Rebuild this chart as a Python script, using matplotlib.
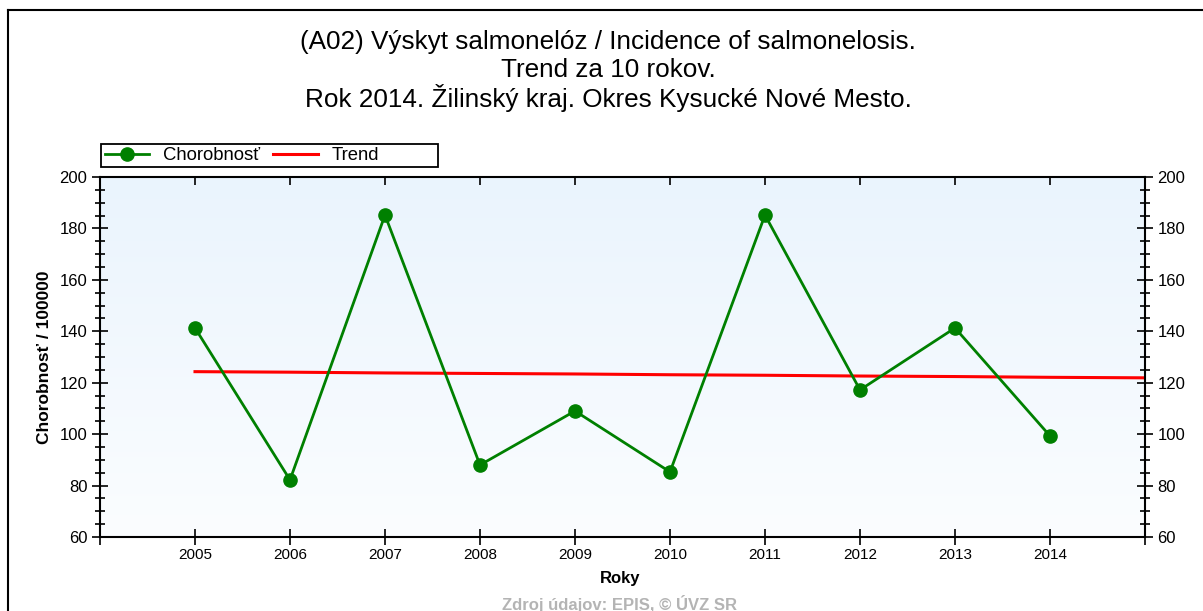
import matplotlib
matplotlib.use("Agg")
import matplotlib.pyplot as plt
import numpy as np
from matplotlib.ticker import FixedLocator, MultipleLocator, FixedFormatter
from matplotlib.lines import Line2D
from matplotlib.patches import Rectangle
from matplotlib.colors import LinearSegmentedColormap

plt.rcParams['font.family'] = ['Liberation Sans', 'DejaVu Sans']

years = [2005, 2006, 2007, 2008, 2009, 2010, 2011, 2012, 2013, 2014]
incidence = [141.3, 82.2, 185.2, 88.0, 109.0, 85.3, 185.2, 117.2, 141.3, 99.3]
trend_years = [2005, 2006, 2007, 2008, 2009, 2010, 2011, 2012, 2013, 2014, 2015]
trend_values = [124.3, 124.1, 123.8, 123.6, 123.4, 123.1, 122.9, 122.6, 122.4, 122.1, 121.9]
title_lines = ["(A02) Výskyt salmonelóz / Incidence of salmonelosis.",
               "Trend za 10 rokov.",
               "Rok 2014. Žilinský kraj. Okres Kysucké Nové Mesto."]

W, H = 1203, 611
fig = plt.figure(figsize=(W / 100, H / 100), dpi=100)

def fx(px):
    return px / W

def fy(py):
    return 1 - py / H

# outer frame
fig.add_artist(Line2D([fx(8), fx(8)], [fy(10), -0.1], color='black', lw=1.5, transform=fig.transFigure))
fig.add_artist(Line2D([fx(8), 1.1], [fy(10), fy(10)], color='black', lw=1.5, transform=fig.transFigure))

ax = fig.add_axes([fx(100), fy(537), fx(1145) - fx(100), fy(177) - fy(537)])
ax.set_xlim(2004, 2015)
ax.set_ylim(60, 200)

# gradient background
grad = np.linspace(0, 1, 256).reshape(-1, 1)
cmap = LinearSegmentedColormap.from_list('bg', ['#fbfdff', '#eaf4fd'])
ax.imshow(grad, extent=[2004, 2015, 60, 200], origin='lower', aspect='auto', cmap=cmap, zorder=0)

ax.plot(trend_years, trend_values, color='#ff0000', lw=2.2, zorder=2, label='Trend')
ax.plot(years, incidence, color='#008000', lw=2.0, marker='o', markersize=9.5,
        zorder=3, label='Chorobnosť')

for s in ax.spines.values():
    s.set_linewidth(1.5)
    s.set_color('black')

# x axis
ax.xaxis.set_major_locator(FixedLocator(list(range(2004, 2016))))
ax.xaxis.set_major_formatter(FixedFormatter([''] + [str(y) for y in years] + ['']))
ax.tick_params(axis='x', which='major', direction='inout', length=12, width=1.2,
               labelsize=11, pad=2, top=False)
# top ticks
sec = ax.secondary_xaxis('top')
sec.xaxis.set_major_locator(FixedLocator(years))
sec.tick_params(direction='in', length=6, width=1.2, labeltop=False)
sec.spines['top'].set_visible(False)

# y axis
ax.yaxis.set_major_locator(MultipleLocator(20))
ax.yaxis.set_minor_locator(MultipleLocator(5))
ax.tick_params(axis='y', which='major', direction='inout', length=12, width=1.2,
               labelsize=12, left=True, right=True, labelleft=True, labelright=True, pad=3)
ax.tick_params(axis='y', which='minor', direction='inout', length=7, width=1.2,
               left=True, right=True)

# labels
fig.text(fx(45), fy(357), 'Chorobnosť / 100000', rotation=90, ha='center', va='center',
         fontsize=12.5, fontweight='bold')
fig.text(fx(620), fy(579), 'Roky', ha='center', va='center', fontsize=12, fontweight='bold')
fig.text(fx(620), fy(604), 'Zdroj údajov: EPIS, © ÚVZ SR', ha='center', va='center',
         fontsize=12, fontweight='bold', color='#b4b4b4')

for t, yy in zip(title_lines, [42, 70, 98]):
    fig.text(fx(608), fy(yy), t, ha='center', va='center', fontsize=18.8)

# legend box
fig.add_artist(Rectangle((fx(101), fy(167)), fx(438) - fx(101), fy(144) - fy(167),
                         transform=fig.transFigure, facecolor='white', edgecolor='black',
                         lw=1.3, zorder=4))
handles, labels = ax.get_legend_handles_labels()
order = [1, 0]
leg = fig.legend([handles[i] for i in order], [labels[i] for i in order],
                 loc='center left', bbox_to_anchor=(fx(105), fy(155.5)),
                 ncol=2, fontsize=13.3, frameon=False, borderpad=0, handlelength=2.4,
                 handletextpad=0.75, columnspacing=0.7, borderaxespad=0)
leg.set_zorder(5)

fig.savefig('out.png', dpi=100)
